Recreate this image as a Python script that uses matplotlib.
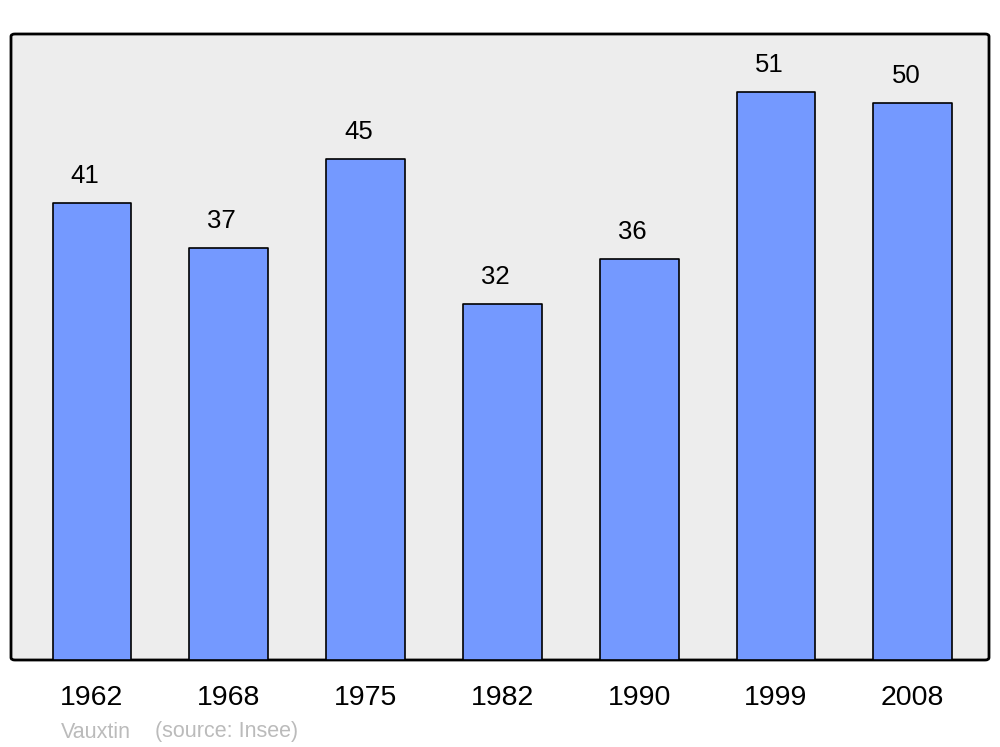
import matplotlib
matplotlib.use("Agg")
import matplotlib.pyplot as plt
from matplotlib.patches import FancyBboxPatch

years = ["1962", "1968", "1975", "1982", "1990", "1999", "2008"]
population = [41, 37, 45, 32, 36, 51, 50]
town = "Vauxtin"
source = "(source: Insee)"

plt.rcParams['font.family'] = ['Liberation Sans', 'DejaVu Sans']

fig = plt.figure(figsize=(10, 7.47), dpi=100)
ax = fig.add_axes([0.011, 87/747, 0.978, 626/747])
ax.set_facecolor('none')
for s in ax.spines.values():
    s.set_visible(False)

frame = FancyBboxPatch((0, 0), 1, 1, boxstyle="round,pad=0,rounding_size=0.004",
                       transform=ax.transAxes, facecolor='#EDEDED', edgecolor='black',
                       linewidth=2, zorder=0, clip_on=False)
ax.add_patch(frame)

x = list(range(len(years)))
bars = ax.bar(x, population, width=0.575, color='#7499FF', edgecolor='black',
              linewidth=1.2, zorder=2, joinstyle='round')
for xi, v in zip(x, population):
    ax.annotate(str(v), (xi, v), xytext=(-7, 27), textcoords='offset pixels',
                ha='center', va='center', fontsize=18.5)

ax.set_xlim(-0.592, 6.557)
ax.set_ylim(0, 56.2)
ax.set_yticks([])
ax.set_xticks(x)
ax.set_xticklabels(years, fontsize=20.5)
ax.tick_params(axis='x', length=0, pad=18)

fig.text(61/1000, 1 - 737.5/747, town, color='#BBBBBB', fontsize=15.5, va='baseline', ha='left')
fig.text(155/1000, 1 - 737.5/747, source, color='#BBBBBB', fontsize=15.5, va='baseline', ha='left')

fig.savefig("out.png", dpi=100)
